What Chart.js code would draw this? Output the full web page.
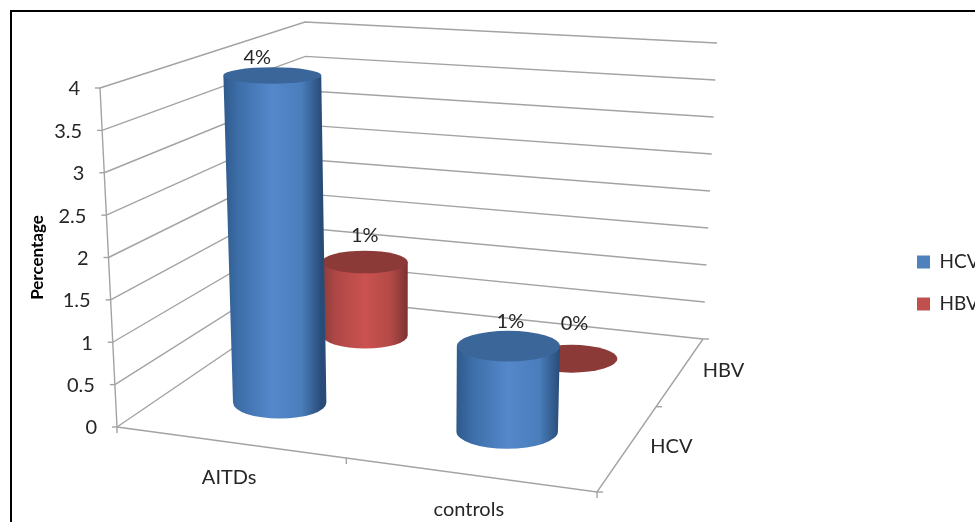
<!DOCTYPE html>
<html>
<head>
<meta charset="utf-8">
<title>Percentage</title>
<script src="https://cdn.jsdelivr.net/npm/chart.js@4"></script>
<style>
    html, body { margin: 0; padding: 0; background: #fff; overflow: hidden; }
    #chart { position: absolute; left: 0; top: 0; display: block; }
    #frame { position: absolute; left: 10px; top: 10px; width: 965px; height: 512px;
             border-left: 2px solid #000; border-top: 2px solid #000; box-sizing: border-box; pointer-events: none; }
</style>
</head>
<body>
<canvas id="chart" width="975" height="522"></canvas>
<div id="frame"></div>
<script>
var categories = ['AITDs', 'controls'];
var seriesNames = ['HCV', 'HBV'];
var hcvValues = [4, 1];
var hbvValues = [1, 0];

// corners of the 3d box on the page: front left, front right, back right, back left
var floorCorners = [[117, 427], [597, 492], [703, 339], [308, 297]];
var topCorners = [[100, 88], [608, 122], [717, 43], [305, 22]];
var barRadius = 0.107;
var gridColor = '#a3a3a3';
var textColor = '#262626';

// where excel left the value labels, relative to the top of each bar
var labelShift = {
    HCV: [[-15, -18], [2, -25]],
    HBV: [[0, -26], [3, -35]]
};

var barStyles = {
    HCV: { top: '#3b6699', stops: ['#2f5a8b', '#3d6ea8', '#5488cb', '#4a7dbb', '#284c78'] },
    HBV: { top: '#8c3a38', stops: ['#8a3b39', '#ad4745', '#cb524f', '#b34a47', '#7c3331'] }
};

// unit square to quad, same as a perspective plane
function quadMap(q) {
    var sx = q[0][0] - q[1][0] + q[2][0] - q[3][0];
    var sy = q[0][1] - q[1][1] + q[2][1] - q[3][1];
    var dx1 = q[1][0] - q[2][0], dx2 = q[3][0] - q[2][0];
    var dy1 = q[1][1] - q[2][1], dy2 = q[3][1] - q[2][1];
    var det = dx1 * dy2 - dx2 * dy1;
    var g = (sx * dy2 - dx2 * sy) / det;
    var h = (dx1 * sy - sx * dy1) / det;
    return function(u, w) {
        var den = 1 + g * u + h * w;
        return [
            (q[0][0] + (q[1][0] - q[0][0] + g * q[1][0]) * u + (q[3][0] - q[0][0] + h * q[3][0]) * w) / den,
            (q[0][1] + (q[1][1] - q[0][1] + g * q[1][1]) * u + (q[3][1] - q[0][1] + h * q[3][1]) * w) / den
        ];
    };
}
var floorMap = quadMap(floorCorners);
var topMap = quadMap(topCorners);

function project(u, v, w) {
    var a = floorMap(u, w), b = topMap(u, w);
    return [a[0] + (b[0] - a[0]) * v, a[1] + (b[1] - a[1]) * v];
}

function line(ctx, pts) {
    ctx.beginPath();
    ctx.moveTo(pts[0][0], pts[0][1]);
    for (var i = 1; i < pts.length; i++) ctx.lineTo(pts[i][0], pts[i][1]);
    ctx.stroke();
}

function fractions(chart) {
    var s = chart.scales;
    return {
        u: function(i) { return (s.x.getPixelForValue(i) - s.x.left) / s.x.width; },
        v: function(val) { return (s.y.bottom - s.y.getPixelForValue(val)) / s.y.height; },
        w: function(i) { return (s.z.getPixelForValue(i) - s.z.left) / s.z.width; }
    };
}

function drawBox(chart) {
    var ctx = chart.ctx, f = fractions(chart), s = chart.scales;
    ctx.save();
    ctx.strokeStyle = gridColor;
    ctx.lineWidth = 1.4;
    s.y.ticks.forEach(function(t) {
        var v = f.v(t.value);
        line(ctx, [project(0, v, 0), project(0, v, 1), project(1, v, 1)]);
        var p = project(0, v, 0);
        line(ctx, [[p[0] - 5, p[1]], p]);
    });
    line(ctx, [project(0, 0, 0), project(0, 1, 0)]);
    line(ctx, [project(0, 0, 0), project(1, 0, 0), project(1, 0, 1)]);
    [0, 0.5, 1].forEach(function(t) {
        var a = project(t, 0, 0);
        line(ctx, [a, [a[0], a[1] + 6]]);
        var b = project(1, 0, t);
        line(ctx, [b, [b[0] + 6, b[1]]]);
    });

    ctx.fillStyle = textColor;
    ctx.font = '20px Lato';
    ctx.textBaseline = 'middle';
    ctx.textAlign = 'right';
    s.y.ticks.forEach(function(t) {
        var p = project(0, f.v(t.value), 0);
        ctx.fillText(t.label, p[0] - 20, p[1] + 1);
    });
    ctx.textAlign = 'center';
    categories.forEach(function(c, i) {
        var p = project(f.u(i), 0, 0);
        ctx.fillText(c, p[0], p[1] + 35);
    });
    ctx.textAlign = 'left';
    seriesNames.forEach(function(c, i) {
        var p = project(1, 0, f.w(i));
        ctx.fillText(c, p[0] + 22, p[1]);
    });
    ctx.restore();
}

function drawBar(chart, name, i, val) {
    var ctx = chart.ctx, f = fractions(chart);
    var style = barStyles[name];
    var u = f.u(i), w = f.w(seriesNames.indexOf(name)), v = f.v(val);
    function ell(vv) {
        var c = project(u, vv, w);
        return {
            x: c[0], y: c[1],
            rx: (project(u + barRadius, vv, w)[0] - project(u - barRadius, vv, w)[0]) / 2,
            ry: Math.abs(project(u, vv, w + barRadius)[1] - project(u, vv, w - barRadius)[1]) / 2
        };
    }
    var base = ell(0), top = ell(v);
    if (val > 0) {
        var g = ctx.createLinearGradient(top.x - top.rx, 0, top.x + top.rx, 0);
        [0, 0.15, 0.5, 0.8, 1].forEach(function(p, k) { g.addColorStop(p, style.stops[k]); });
        ctx.fillStyle = g;
        ctx.beginPath();
        ctx.moveTo(top.x - top.rx, top.y);
        ctx.lineTo(base.x - base.rx, base.y);
        ctx.ellipse(base.x, base.y, base.rx, base.ry, 0, Math.PI, 0, true);
        ctx.lineTo(top.x + top.rx, top.y);
        ctx.closePath();
        ctx.fill();
    }
    ctx.fillStyle = style.top;
    ctx.beginPath();
    ctx.ellipse(top.x, top.y, top.rx, top.ry, 0, 0, Math.PI * 2);
    ctx.fill();
}

var box3d = {
    id: 'box3d',
    afterLayout: function(chart) {
        // legend sits lower than the layout would put it and runs up to the page edge
        var lg = chart.legend;
        lg.left = 894; lg.right = 975 + 24;
        lg.top = 229.5; lg.bottom = 340;
    },
    beforeDatasetsDraw: function(chart) { drawBox(chart); },
    beforeDatasetDraw: function() { return false; },
    afterDatasetsDraw: function(chart) {
        var ctx = chart.ctx;
        // back row first
        hbvValues.forEach(function(val, i) { drawBar(chart, 'HBV', i, val); });
        hcvValues.forEach(function(val, i) { drawBar(chart, 'HCV', i, val); });

        var f = fractions(chart);
        ctx.save();
        ctx.fillStyle = textColor;
        ctx.font = '20px Lato';
        ctx.textAlign = 'center';
        ctx.textBaseline = 'middle';
        [['HCV', hcvValues], ['HBV', hbvValues]].forEach(function(row) {
            row[1].forEach(function(val, i) {
                var p = project(f.u(i), f.v(val), f.w(seriesNames.indexOf(row[0])));
                var d = labelShift[row[0]][i];
                ctx.fillText(val + '%', p[0] + d[0], p[1] + d[1]);
            });
        });
        ctx.restore();
    }
};

Chart.defaults.font.family = 'Lato';
Chart.defaults.color = textColor;

var myChart = new Chart(document.getElementById('chart').getContext('2d'), {
    type: 'bar',
    data: {
        labels: categories,
        datasets: [
            { label: seriesNames[0], data: hcvValues, backgroundColor: '#4f81bd' },
            { label: seriesNames[1], data: hbvValues, backgroundColor: '#c0504d' }
        ]
    },
    options: {
        responsive: false,
        animation: false,
        layout: { padding: { top: 88, bottom: 95, left: 23, right: 10 } },
        plugins: {
            title: { display: false },
            tooltip: { enabled: false },
            legend: {
                display: true,
                position: 'right',
                align: 'start',
                labels: {
                    boxWidth: 13,
                    boxHeight: 13,
                    padding: 23,
                    color: textColor,
                    font: { size: 19 }
                }
            }
        },
        scales: {
            x: { display: false, offset: true },
            z: { type: 'category', axis: 'x', position: 'top', labels: seriesNames, display: false, offset: true },
            y: {
                min: 0,
                max: 4,
                grid: { display: false },
                border: { display: false },
                ticks: {
                    display: false,
                    stepSize: 0.5,
                    callback: function(value) { return String(value); }
                },
                title: {
                    display: true,
                    text: 'Percentage',
                    color: '#000',
                    font: { size: 17, weight: 'bold' }
                }
            }
        }
    },
    plugins: [box3d]
});
</script>
</body>
</html>
